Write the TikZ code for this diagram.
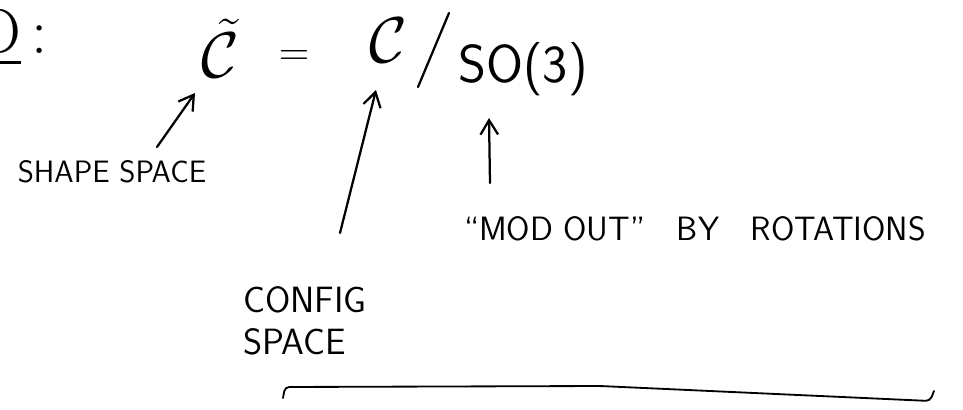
\RequirePackage{fix-cm}
\documentclass[tikz,border=0pt]{standalone}
\usepackage{amsmath,amssymb}
\usepackage{tikz}
\usetikzlibrary{arrows.meta,positioning,calc}

\begin{document}
\begin{tikzpicture}[
  x=0.025cm, y=-0.025cm,
  hand/.style={font=\sffamily\fontsize{22}{26}\selectfont, inner sep=0pt},
  bigmath/.style={font=\fontsize{46}{52}\selectfont, inner sep=0pt},
  arr/.style={-{Straight Barb[length=3.6mm,width=4.4mm]}, line width=1.6pt, line cap=round},
  brk/.style={line width=1.3pt, rounded corners=3pt, line cap=round}
]
\useasboundingbox (0,0) rectangle (963,409);

% formula
\node[bigmath, anchor=east] (ex) at (48,38) {\underline{D}\,:};
\node[bigmath] (shape) at (220,48) {$\tilde{\mathcal{C}}$};
\node[bigmath, font=\fontsize{30}{34}\selectfont] (eq) at (294,58) {$=$};
\node[bigmath] (config) at (388,40) {$\mathcal{C}$};
\coordinate (slashlo) at (418,87);
\coordinate (slashhi) at (449,13);
\draw[line width=1.6pt, line cap=round] (slashlo) -- (slashhi);
\node[hand, font=\sffamily\fontsize{38}{42}\selectfont] (so) at (523,69) {SO(3)};

% labels
\node[hand] (shapelbl) at (112,172) {SHAPE SPACE};
\node[hand, align=left, font=\sffamily\fontsize{26}{30}\selectfont] (configlbl) at (305,321) {CONFIG\\SPACE};
\node[hand, font=\sffamily\fontsize{24}{28}\selectfont] (modlbl) at (695,229) {``MOD OUT''\ \ \ BY\ \ \ ROTATIONS};

% arrows to the formula
\coordinate (shapetail) at (157,147);
\coordinate (configtail) at (340,233);
\coordinate (sotail) at (490,183);
\draw[arr] (shapetail) -- (195,93);
\draw[arr] (configtail) -- (376,90);
\draw[arr] (sotail) -- (489,118);

% bottom bracket
\coordinate (bl) at (283,398);
\coordinate (br) at (934,391);
\draw[brk] (bl) -- (285,387) -- (600,386) -- (930,401) -- (br);

\end{tikzpicture}
\end{document}
